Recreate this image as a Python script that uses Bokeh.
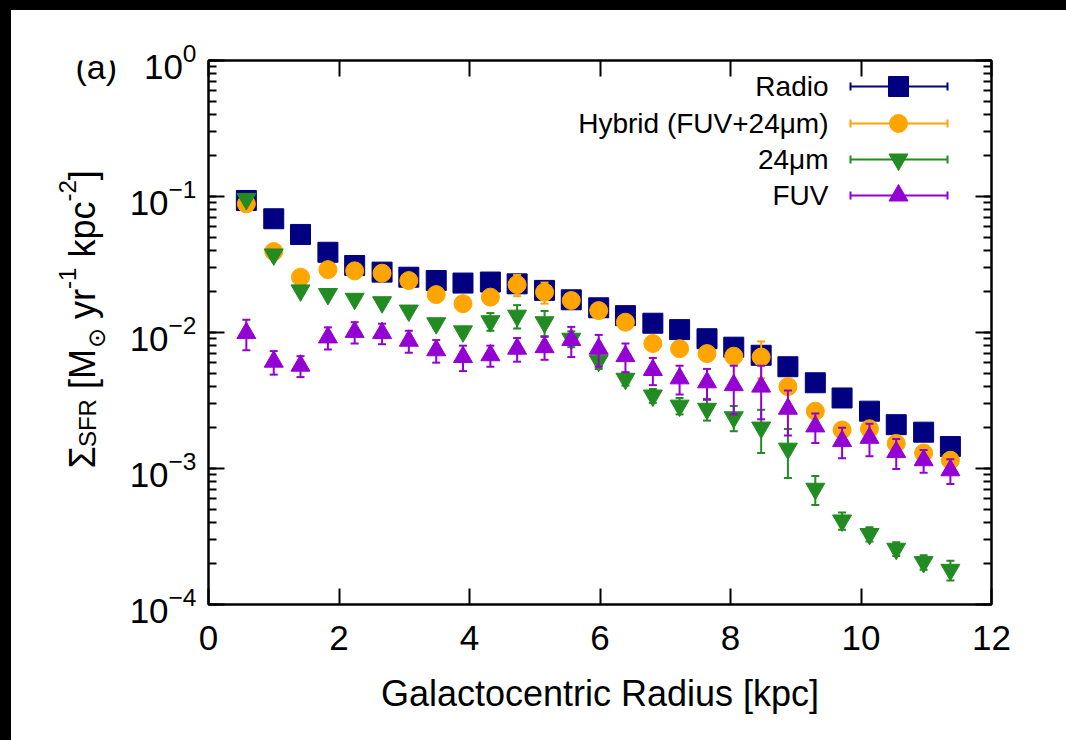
import math
from bokeh.plotting import figure
from bokeh.layouts import column, row
from bokeh.models import (Range1d, LinearScale, LogAxis, LinearAxis, LogTicker, Div,
                          SingleIntervalTicker, LogTickFormatter, ColumnDataSource, Label)
from bokeh.embed import file_html
from bokeh.resources import INLINE

# ---------------- data ----------------
radius = [0.58, 1.00, 1.41, 1.83, 2.24, 2.66, 3.07, 3.49, 3.90, 4.32, 4.73, 5.15, 5.56, 5.98,
          6.39, 6.81, 7.22, 7.64, 8.05, 8.47, 8.88, 9.30, 9.71, 10.13, 10.54, 10.96, 11.37]

radio = [0.0935, 0.0686, 0.0526, 0.0389, 0.0311, 0.0278, 0.0255, 0.0241, 0.0231, 0.0235, 0.0228,
         0.0204, 0.0174, 0.0152, 0.0133, 0.0117, 0.0105, 0.0090, 0.0078, 0.0068, 0.0056, 0.00427,
         0.0033, 0.00264, 0.0021, 0.00185, 0.00145]
radio_err = [0.002, 0.0015, 0.001, 0.001, 0.0008, 0.0006, 0.0005, 0.0005, 0.0005, 0.0005, 0.0005,
             0.0004, 0.0004, 0.0003, 0.0003, 0.0003, 0.0002, 0.0002, 0.0002, 0.00015, 0.00015,
             0.0001, 0.0001, 0.00008, 0.00006, 0.00005, 0.00004]

hybrid = [0.0883, 0.0394, 0.0255, 0.0290, 0.0284, 0.0273, 0.0241, 0.0190, 0.0163, 0.0182, 0.0225,
          0.0198, 0.0172, 0.0145, 0.0119, 0.0083, 0.0076, 0.0070, 0.0067, 0.0066, 0.0040, 0.00264,
          0.00192, 0.00196, 0.00153, 0.0013, 0.00115]
hybrid_err = [0.003, 0.0015, 0.001, 0.001, 0.001, 0.001, 0.001, 0.0008, 0.0007, 0.0008, 0.004,
              0.0035, 0.001, 0.0008, 0.0012, 0.0006, 0.0005, 0.0005, 0.0007, 0.002, 0.0003,
              0.0001, 0.0001, 0.0001, 0.00007, 0.00006, 0.00005]

ir24 = [0.096, 0.0375, 0.0204, 0.0192, 0.0177, 0.0167, 0.0145, 0.0117, 0.0102, 0.0121, 0.0133,
        0.0119, 0.0090, 0.0062, 0.00457, 0.00344, 0.0029, 0.00275, 0.00238, 0.0020, 0.0014,
        0.00071, 0.000415, 0.00033, 0.000257, 0.000205, 0.00018]
ir24_err = [0.004, 0.002, 0.001, 0.0008, 0.0008, 0.0008, 0.0008, 0.0008, 0.0008, 0.0018, 0.0026,
            0.0025, 0.0012, 0.0008, 0.0005, 0.0004, 0.0004, 0.0005, 0.0005, 0.0007, 0.00055,
            0.00017, 0.00006, 0.00004, 0.00003, 0.000025, 0.00003]

fuv = [0.0099, 0.0061, 0.0057, 0.0092, 0.0101, 0.0099, 0.0087, 0.0074, 0.0066, 0.0068, 0.0076,
       0.0078, 0.0088, 0.0076, 0.0067, 0.0053, 0.0046, 0.0043, 0.0041, 0.0040, 0.00275, 0.00204,
       0.00159, 0.00168, 0.00132, 0.00115, 0.00097]
fuv_err = [0.0025, 0.0012, 0.0010, 0.0017, 0.0018, 0.0017, 0.0016, 0.0014, 0.0014, 0.0012, 0.0015,
           0.0015, 0.0022, 0.0020, 0.0016, 0.0012, 0.0011, 0.0011, 0.0016, 0.0017, 0.0010, 0.0005,
           0.0004, 0.00045, 0.00033, 0.00022, 0.0002]

series_names = ["Radio", "Hybrid (FUV+24\u03bcm)", "24\u03bcm", "FUV"]
series_colors = ["#000080", "#FFA500", "#228B22", "#9400D3"]
series_markers = ["square", "circle", "inverted_triangle", "triangle"]
series_sizes = [20, 18, 19, 19]

x_title = "Galactocentric Radius [kpc]"
panel_tag = "(a)"

FONT = "Liberation Sans"
FW, FH = 783, 544
LW = 105                      # width of the side panel holding the y title
BL, BT, BR, BB = 92, 50, 67, 136
total_h = BT + FH + BB

p = figure(frame_width=FW, frame_height=FH, x_range=Range1d(0, 12), y_range=Range1d(1e-4, 1),
           y_axis_type="log", output_backend="svg", toolbar_location=None,
           min_border_left=BL, min_border_right=BR, min_border_top=BT, min_border_bottom=BB,
           extra_x_ranges={"lx": Range1d(0, FW)}, extra_y_ranges={"ly": Range1d(0, FH)},
           extra_x_scales={"lx": LinearScale()}, extra_y_scales={"ly": LinearScale()},
           background_fill_color="white", border_fill_color="white")
p.grid.visible = False
p.outline_line_color = "black"
p.outline_line_width = 2

# axes
xt = SingleIntervalTicker(interval=2, num_minor_ticks=0)
yt = LogTicker(num_minor_ticks=10, mantissas=[1])

def style_axis(ax, labels=True):
    ax.axis_line_color = "black"
    ax.axis_line_width = 2
    ax.major_tick_in = 16
    ax.major_tick_out = 0
    ax.minor_tick_in = 8
    ax.minor_tick_out = 0
    ax.major_tick_line_width = 2
    ax.minor_tick_line_width = 2
    ax.major_tick_line_color = "black"
    ax.minor_tick_line_color = "black"
    ax.major_label_text_font = FONT
    if labels:
        ax.major_label_text_color = "black"
        ax.major_label_text_font_size = "35px"
    else:
        ax.major_label_text_color = None
        ax.major_label_text_font_size = "8px"
        ax.major_label_standoff = 0

xa = p.xaxis[0]
xa.ticker = xt
style_axis(xa)
xa.minor_tick_line_color = None
xa.major_label_standoff = 21
xa.axis_label = x_title
xa.axis_label_text_font = FONT
xa.axis_label_text_font_size = "36px"
xa.axis_label_text_font_style = "normal"
xa.axis_label_text_color = "black"
xa.axis_label_standoff = 20

ya = p.yaxis[0]
ya.ticker = yt
ya.formatter = LogTickFormatter()
style_axis(ya)
ya.major_label_standoff = 12

top = LinearAxis(ticker=xt)
style_axis(top, labels=False)
top.minor_tick_line_color = None
p.add_layout(top, "above")
right = LogAxis(ticker=yt)
style_axis(right, labels=False)
p.add_layout(right, "right")

# data series
all_vals = [radio, hybrid, ir24, fuv]
all_errs = [radio_err, hybrid_err, ir24_err, fuv_err]
for vals, errs, color, marker, size in zip(all_vals, all_errs, series_colors, series_markers, series_sizes):
    src = ColumnDataSource(dict(x=radius, y=vals,
                                lo=[v - e for v, e in zip(vals, errs)],
                                hi=[v + e for v, e in zip(vals, errs)]))
    p.segment(x0="x", x1="x", y0="lo", y1="hi", source=src, line_color=color, line_width=2)
    p.scatter(x="x", y="lo", marker="dash", size=8, line_color=color, line_width=2, source=src)
    p.scatter(x="x", y="hi", marker="dash", size=8, line_color=color, line_width=2, source=src)
    p.scatter(x="x", y="y", marker=marker, size=size, fill_color=color, line_color=color,
              line_width=1, source=src)

# key (gnuplot style: text then sample), in frame pixels
key_rows = [518, 481, 445, 409]
for name, color, marker, size, ky in zip(series_names, series_colors, series_markers, series_sizes, key_rows):
    p.segment(x0=[642], x1=[739], y0=[ky], y1=[ky], line_color=color, line_width=2,
              x_range_name="lx", y_range_name="ly")
    p.scatter(x=[642, 739], y=[ky, ky], marker="dash", angle=math.pi / 2, size=8,
              line_color=color, line_width=2, x_range_name="lx", y_range_name="ly")
    p.scatter(x=[690], y=[ky], marker=marker, size=size, fill_color=color, line_color=color,
              x_range_name="lx", y_range_name="ly")
    p.add_layout(Label(x=620, y=ky, x_units="screen", y_units="screen", text=name,
                       text_font=FONT, text_font_size="28px", text_align="right",
                       text_baseline="middle", text_color="black"))

# ---------- side panel with the y title and the panel tag ----------
# its frame has the same height and vertical position as the main frame
lab = figure(width=LW, frame_height=FH, x_range=Range1d(0, LW), y_range=Range1d(0, FH),
             min_border_left=0, min_border_right=0, min_border_top=BT, min_border_bottom=BB,
             toolbar_location=None, output_backend="svg",
             x_axis_location=None, y_axis_location=None, outline_line_color=None,
             background_fill_color="white", border_fill_color="white")
lab.grid.visible = False

X0 = LW + BL          # main frame left edge, in side-panel x units
lab.add_layout(Label(x=X0 - 133, y=FH - 6, text=panel_tag, text_font=FONT,
                     text_font_size="34px", text_align="left", text_baseline="middle",
                     text_color="black"))

W = {"Σ": 0.594, "S": 0.667, "F": 0.611, "R": 0.722, " ": 0.278, "[": 0.278, "M": 0.833,
     "y": 0.5, "r": 0.333, "-": 0.333, "1": 0.556, "k": 0.5, "p": 0.556, "c": 0.5,
     "2": 0.556, "]": 0.278, "⊙": 0.80}
BIG, SMALL = 36, 24
SP = 0.278 * BIG      # a word space at the main size
# (text, size, baseline offset from frame, font, baseline mode, gap before)
pieces = [("Σ", BIG, -126, FONT, "alphabetic", 0),
          ("SFR", SMALL, -121, FONT, "alphabetic", 0),
          ("[M", BIG, -126, FONT, "alphabetic", SP),
          ("⊙", SMALL, -112, "DejaVu Sans", "middle", 1),
          ("yr", BIG, -126, FONT, "alphabetic", SP),
          ("-1", SMALL, -141, FONT, "alphabetic", 0),
          ("kpc", BIG, -126, FONT, "alphabetic", SP),
          ("-2", SMALL, -141, FONT, "alphabetic", 0),
          ("]", BIG, -126, FONT, "alphabetic", 0)]
pos = 136
for txt, fs, sx, font, base, gap in pieces:
    pos += gap
    lab.add_layout(Label(x=X0 + sx, y=pos, text=txt, angle=math.pi / 2,
                         text_font=font, text_font_size=f"{fs}px", text_align="left",
                         text_baseline=base, text_color="black"))
    pos += sum(W[ch] for ch in txt) * fs

top_bar = Div(text="", width=1066, height=10, margin=0, styles={"background-color": "black"})
left_bar = Div(text="", width=11, height=total_h, margin=0, styles={"background-color": "black"})
right_fill = Div(text="", width=16, height=total_h, margin=0, styles={"background-color": "white"})
layout = column(top_bar,
                row(left_bar, lab, p, right_fill, spacing=0, styles={"background-color": "white"}),
                spacing=0, styles={"background-color": "white"})

open("out.html", "w").write(file_html(layout, INLINE))
